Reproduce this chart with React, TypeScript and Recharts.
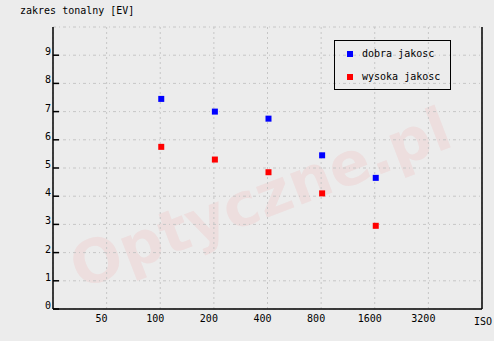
import React from "react";
import {
  ScatterChart,
  Scatter,
  XAxis,
  YAxis,
  CartesianGrid,
  Legend,
} from "recharts";

// ISO positions on a log2 axis: 50 -> 1, 100 -> 2, ... 3200 -> 7
const isoTicks = [50, 100, 200, 400, 800, 1600, 3200];
const measuredIso = [100, 200, 400, 800, 1600];
const dobraJakosc = [7.45, 7.0, 6.75, 5.45, 4.65];
const wysokaJakosc = [5.75, 5.3, 4.85, 4.1, 2.95];
const evTicks = [0, 1, 2, 3, 4, 5, 6, 7, 8, 9];

const isoPos = (iso: number) => Math.log2(iso / 25);

const dobraData = measuredIso.map((iso, i) => ({ x: isoPos(iso), y: dobraJakosc[i] }));
const wysokaData = measuredIso.map((iso, i) => ({ x: isoPos(iso), y: wysokaJakosc[i] }));

const FONT = "'DejaVu Sans Mono', monospace";
const BG = "#ececec";

const Square = (props: any) => {
  const { cx, cy, fill } = props;
  if (cx == null || cy == null) return null;
  return <rect x={cx - 2} y={cy - 3} width={6} height={6} fill={fill} />;
};

const XTick = (props: any) => {
  const { x, y, payload } = props;
  const iso = isoTicks[payload.value - 1];
  return (
    <text x={x - 5} y={y + 13} textAnchor="middle" fontFamily={FONT} fontSize={10} fill="#000">
      {iso}
    </text>
  );
};

const YTickLeft = (props: any) => {
  const { x, y, payload } = props;
  return (
    <g>
      <line x1={x} x2={x + 6} y1={y} y2={y} stroke="#000" strokeWidth={1.5} />
      <text x={x - 2} y={y} textAnchor="end" fontFamily={FONT} fontSize={10} fill="#000">
        {payload.value}
      </text>
    </g>
  );
};

const YTickRight = (props: any) => {
  const { x, y } = props;
  return <line x1={x - 6} x2={x} y1={y} y2={y} stroke="#000" strokeWidth={1.5} />;
};

const LegendBox = (props: any) => {
  const { payload } = props;
  return (
    <div
      style={{
        border: "1px solid #000",
        width: 115,
        height: 48,
        boxSizing: "content-box",
        fontFamily: FONT,
        fontSize: 10,
        color: "#000",
        position: "relative",
      }}
    >
      {(payload || []).map((p: any, i: number) => (
        <div
          key={p.value}
          style={{ position: "absolute", left: 12, top: 7 + i * 23, display: "flex", alignItems: "center", height: 12 }}
        >
          <span style={{ width: 6, height: 6, background: p.color, display: "inline-block", marginRight: 9 }} />
          <span style={{ lineHeight: "12px", whiteSpace: "nowrap" }}>{p.value}</span>
        </div>
      ))}
    </div>
  );
};

export default function App() {
  return (
    <div style={{ position: "fixed", left: 0, top: 0, width: 494, height: 341, background: BG, overflow: "hidden" }}>
      <svg width={494} height={341} style={{ position: "absolute", left: 0, top: 0 }}>
        <text
          x={262}
          y={202}
          textAnchor="middle"
          dominantBaseline="middle"
          fontFamily="'DejaVu Sans', sans-serif"
          fontWeight="bold"
          fontSize={60}
          fill="rgba(255,0,0,0.06)"
          transform="rotate(-21 262 202)"
        >
          Optyczne.pl
        </text>
      </svg>
      <div style={{ position: "absolute", left: 20, top: 5, fontFamily: FONT, fontSize: 10, color: "#000", whiteSpace: "nowrap" }}>
        zakres tonalny [EV]
      </div>
      <div style={{ position: "absolute", left: 474, top: 316, fontFamily: FONT, fontSize: 10, color: "#000" }}>ISO</div>
      <div style={{ position: "absolute", left: 0, top: 0 }}>
        <ScatterChart width={494} height={341} margin={{ top: 27, right: 0, bottom: 0, left: 0 }}>
          <CartesianGrid horizontal={false} stroke="#c6c6c6" strokeDasharray="2 3" />
          <CartesianGrid vertical={false} stroke="#c6c6c6" strokeDasharray="3 3 1 3" />
          <XAxis
            type="number"
            dataKey="x"
            domain={[0, 8]}
            ticks={[1, 2, 3, 4, 5, 6, 7]}
            height={32}
            tickSize={0}
            tickMargin={0}
            tickLine={false}
            axisLine={{ stroke: "#000", strokeWidth: 1.5 }}
            tick={<XTick />}
            allowDataOverflow
          />
          <XAxis
            xAxisId="top"
            orientation="top"
            type="number"
            domain={[0, 8]}
            height={0}
            tick={false}
            tickLine={false}
            axisLine={{ stroke: "#000", strokeWidth: 1.5 }}
          />
          <YAxis
            type="number"
            dataKey="y"
            domain={[0, 10]}
            ticks={evTicks}
            width={53}
            tickSize={0}
            tickMargin={0}
            tickLine={false}
            axisLine={{ stroke: "#000", strokeWidth: 1.5 }}
            tick={<YTickLeft />}
            allowDataOverflow
          />
          <YAxis
            yAxisId="right"
            orientation="right"
            type="number"
            domain={[0, 10]}
            ticks={evTicks.slice(1)}
            width={12}
            tickSize={0}
            tickMargin={0}
            tickLine={false}
            axisLine={{ stroke: "#000", strokeWidth: 1.5 }}
            tick={<YTickRight />}
          />
          <Legend
            layout="horizontal"
            verticalAlign="middle"
            align="center"
            content={<LegendBox />}
            wrapperStyle={{ left: 334, top: 40, width: 117, height: 50 }}
          />
          <Scatter name="dobra jakosc" data={dobraData} fill="#0000ff" shape={<Square />} isAnimationActive={false} />
          <Scatter name="wysoka jakosc" data={wysokaData} fill="#ff0000" shape={<Square />} isAnimationActive={false} />
        </ScatterChart>
      </div>
    </div>
  );
}
